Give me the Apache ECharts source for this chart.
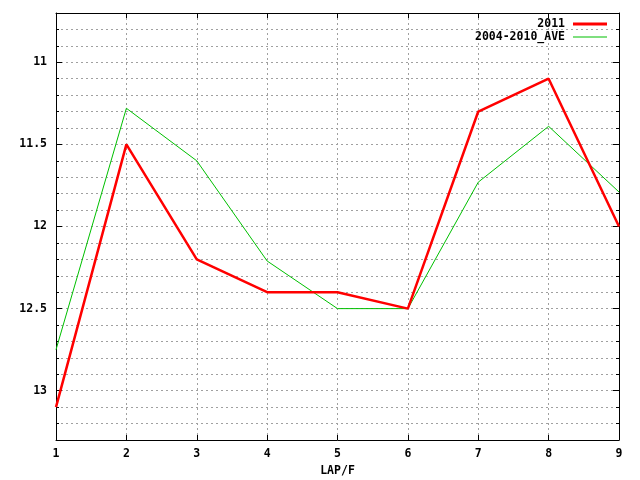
<!DOCTYPE html>
<html>
<head>
<meta charset="utf-8">
<script src="https://cdn.jsdelivr.net/npm/echarts@6/dist/echarts.min.js"></script>
<style>html,body{margin:0;padding:0;background:#fff}#c{width:640px;height:480px}</style>
</head>
<body>
<div id="c"></div>
<script>
var laps = [1, 2, 3, 4, 5, 6, 7, 8, 9];
var s2011 = [13.1, 11.5, 12.2, 12.4, 12.4, 12.5, 11.3, 11.1, 12.0];
var sAve = [12.75, 11.28, 11.6, 12.21, 12.5, 12.5, 11.73, 11.39, 11.79];
var yTickLabels = [11, 11.5, 12, 12.5, 13];
var name2011 = '2011';
var nameAve = '2004-2010_AVE';

var FONT = 'DejaVu Sans Mono';
function pairs(xs, ys) { return xs.map(function (x, i) { return [x, ys[i]]; }); }
function yLabel(v) {
  for (var i = 0; i < yTickLabels.length; i++) {
    if (Math.abs(v - yTickLabels[i]) < 1e-6) return String(yTickLabels[i]);
  }
  return '';
}
var gridLine = { show: true, lineStyle: { color: '#a0a0a0', type: [2, 3], width: 1 } };
var axLine = { show: true, onZero: false, lineStyle: { color: '#000', width: 1 } };
var noLine = { show: false };
var lbl = { color: '#000', fontFamily: FONT, fontWeight: 'bold', fontSize: 11.5 };
function majorY(pos) {
  return { type: 'value', inverse: true, min: 10.7, max: 13.3, position: pos,
    axisLine: noLine,
    axisTick: { show: true, inside: true, length: 6, customValues: yTickLabels, lineStyle: { color: '#000' } },
    axisLabel: { show: false }, splitLine: { show: false } };
}

var chart = echarts.init(document.getElementById('c'));
chart.setOption({
  animation: false,
  backgroundColor: '#fff',
  grid: { left: 56, right: 21, top: 13, bottom: 40, containLabel: false, outerBoundsMode: 'none' },
  legend: [
    { data: [name2011], right: 33, top: 18, orient: 'vertical', align: 'right',
      itemWidth: 34, itemHeight: 3, itemGap: 0, icon: 'rect', padding: 0,
      textStyle: Object.assign({ padding: [0, 3, 0, 0] }, lbl) },
    { data: [nameAve], right: 33, top: 31, orient: 'vertical', align: 'right',
      itemWidth: 34, itemHeight: 1, itemGap: 0, icon: 'rect', padding: 0,
      textStyle: Object.assign({ padding: [0, 3, 0, 0] }, lbl) }
  ],
  xAxis: [
    { type: 'value', min: 1, max: 9, interval: 1, position: 'bottom',
      name: 'LAP/F', nameLocation: 'middle', nameGap: 19,
      nameTextStyle: lbl,
      axisLine: axLine, axisTick: { show: true, inside: true, length: 5, lineStyle: { color: '#000' } },
      axisLabel: Object.assign({ margin: 8 }, lbl),
      splitLine: gridLine },
    { type: 'value', min: 1, max: 9, interval: 1, position: 'top',
      axisLine: axLine, axisTick: { show: true, inside: true, length: 5, lineStyle: { color: '#000' } },
      axisLabel: { show: false }, splitLine: { show: false } }
  ],
  yAxis: [
    { type: 'value', inverse: true, min: 10.7, max: 13.3, interval: 0.1, position: 'left',
      axisLine: axLine, axisTick: { show: true, inside: true, length: 3, lineStyle: { color: '#000' } },
      axisLabel: Object.assign({ margin: 9, formatter: yLabel }, lbl),
      splitLine: gridLine },
    { type: 'value', inverse: true, min: 10.7, max: 13.3, interval: 0.1, position: 'right',
      axisLine: axLine, axisTick: { show: true, inside: true, length: 3, lineStyle: { color: '#000' } },
      axisLabel: { show: false }, splitLine: { show: false } },
    majorY('left'),
    majorY('right')
  ],
  series: [
    { name: name2011, type: 'line', xAxisIndex: 0, yAxisIndex: 0, data: pairs(laps, s2011),
      showSymbol: false, symbol: 'none', color: '#ff0000', lineStyle: { color: '#ff0000', width: 2.5 }, z: 3 },
    { name: nameAve, type: 'line', xAxisIndex: 0, yAxisIndex: 0, data: pairs(laps, sAve),
      showSymbol: false, symbol: 'none', color: '#00c000', lineStyle: { color: '#00c000', width: 1 }, z: 2 }
  ]
});
</script>
</body>
</html>
